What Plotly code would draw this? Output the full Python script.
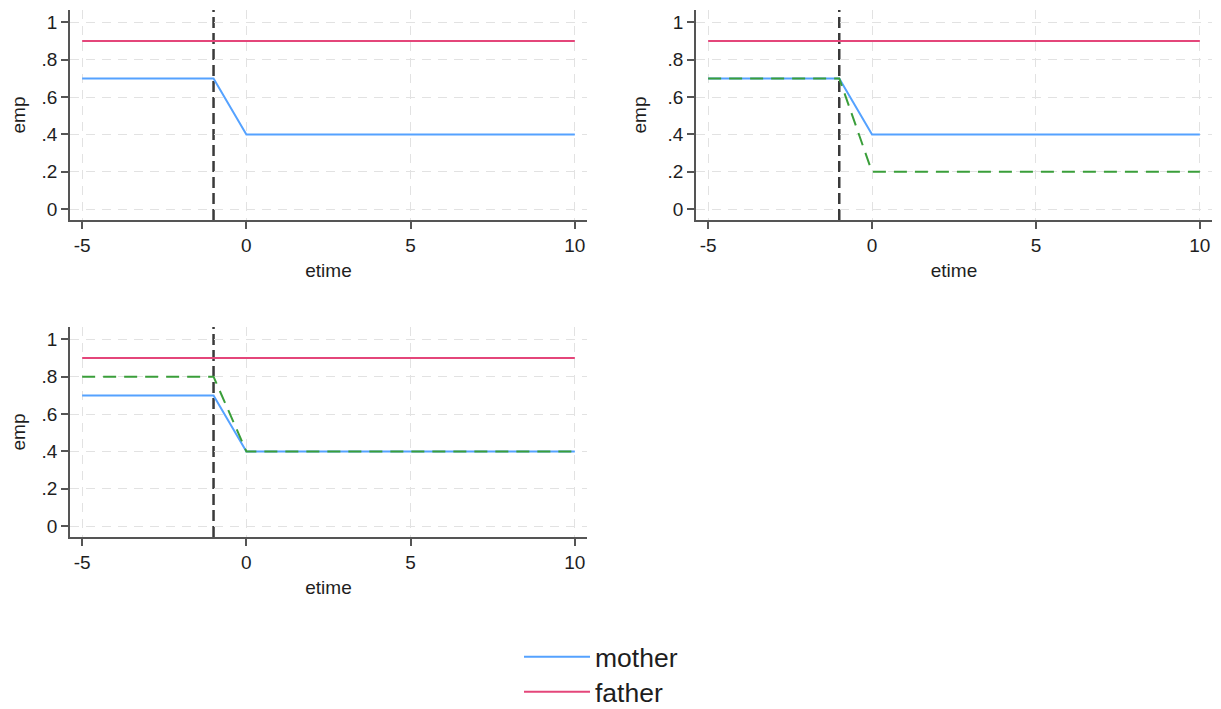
import plotly.graph_objects as go

# ---- data ----
etime = [-5, -4, -3, -2, -1, 0, 1, 2, 3, 4, 5, 6, 7, 8, 9, 10]
mother = [0.7, 0.7, 0.7, 0.7, 0.7, 0.4, 0.4, 0.4, 0.4, 0.4, 0.4, 0.4, 0.4, 0.4, 0.4, 0.4]
father = [0.9] * 16
alt_panel2 = [0.7, 0.7, 0.7, 0.7, 0.7, 0.2, 0.2, 0.2, 0.2, 0.2, 0.2, 0.2, 0.2, 0.2, 0.2, 0.2]
alt_panel3 = [0.8, 0.8, 0.8, 0.8, 0.8, 0.4, 0.4, 0.4, 0.4, 0.4, 0.4, 0.4, 0.4, 0.4, 0.4, 0.4]
event_time = -1
x_ticks = [-5, 0, 5, 10]
x_ticklabels = ["-5", "0", "5", "10"]
y_ticks = [0, 0.2, 0.4, 0.6, 0.8, 1]
y_ticklabels = ["0", ".2", ".4", ".6", ".8", "1"]

BLUE = "#55a2ff"
PINK = "#e4467a"
GREEN = "#3a9e3a"
FONT = "Liberation Sans, Arial, sans-serif"
TXT = "#1e1e1e"
# page body has an 8px margin, so the figure is 8px smaller than the window on each used side
OFF = 8
W, H = 1221 - OFF, 709 - OFF

fig = go.Figure()

panels = [
    # (xaxis id, yaxis id, x-range px, y-range px (window coords), extra series)
    ("x", "y", (70, 587), (10, 220), None),
    ("x2", "y2", (696, 1212), (10, 220), alt_panel2),
    ("x3", "y3", (70, 587), (327, 537), alt_panel3),
]

for i, (xa, ya, (x0, x1), (yt, yb), extra) in enumerate(panels):
    fig.add_trace(go.Scatter(x=etime, y=mother, mode="lines", name="mother",
                             line=dict(color=BLUE, width=2), xaxis=xa, yaxis=ya,
                             showlegend=(i == 0), legend="legend"))
    fig.add_trace(go.Scatter(x=etime, y=father, mode="lines", name="father",
                             line=dict(color=PINK, width=2), xaxis=xa, yaxis=ya,
                             showlegend=(i == 0), legend="legend2"))
    if extra is not None:
        fig.add_trace(go.Scatter(x=etime, y=extra, mode="lines", name="alt",
                                 line=dict(color=GREEN, width=2, dash="13px,8px"),
                                 xaxis=xa, yaxis=ya, showlegend=False))
    suffix = "" if i == 0 else str(i + 1)
    axis_common = dict(
        showline=True, linecolor="#555555", linewidth=1.5,
        ticks="outside", ticklen=7, tickcolor="#555555", tickwidth=1.5,
        showgrid=True, gridcolor="#e2e2e2", gridwidth=1, griddash="9px,7px",
        zeroline=False, tickfont=dict(family=FONT, size=19, color=TXT),
    )
    fig.layout["xaxis" + suffix] = dict(
        axis_common,
        domain=[(x0 - OFF) / W, (x1 - OFF) / W], anchor=ya, range=[-5.37, 10.37],
        tickmode="array", tickvals=x_ticks, ticktext=x_ticklabels,
        title=dict(text="etime", font=dict(family=FONT, size=19, color=TXT), standoff=9),
    )
    fig.layout["yaxis" + suffix] = dict(
        axis_common,
        domain=[1 - (yb - OFF) / H, 1 - (yt - OFF) / H], anchor=xa, range=[-0.058, 1.066],
        tickmode="array", tickvals=y_ticks, ticktext=y_ticklabels,
        title=dict(text="emp", font=dict(family=FONT, size=19, color=TXT), standoff=16),
    )
    fig.add_shape(type="line", xref=xa, yref=ya + " domain", x0=event_time, x1=event_time,
                  y0=0, y1=1, layer="below",
                  line=dict(color="#3a3a3a", width=2.5, dash="11px,5px"))

legend_common = dict(xanchor="left", yanchor="middle",
                     font=dict(family=FONT, size=26.5, color=TXT),
                     itemwidth=66, bgcolor="rgba(0,0,0,0)")
fig.update_layout(
    width=W, height=H,
    margin=dict(l=0, r=0, t=0, b=0, autoexpand=False),
    paper_bgcolor="white", plot_bgcolor="white",
    font=dict(family=FONT, color=TXT),
    legend=dict(legend_common, x=(519 - OFF) / W, y=1 - (657 - OFF) / H),
    legend2=dict(legend_common, x=(519 - OFF) / W, y=1 - (692 - OFF) / H),
)

fig.write_html("out.html")
